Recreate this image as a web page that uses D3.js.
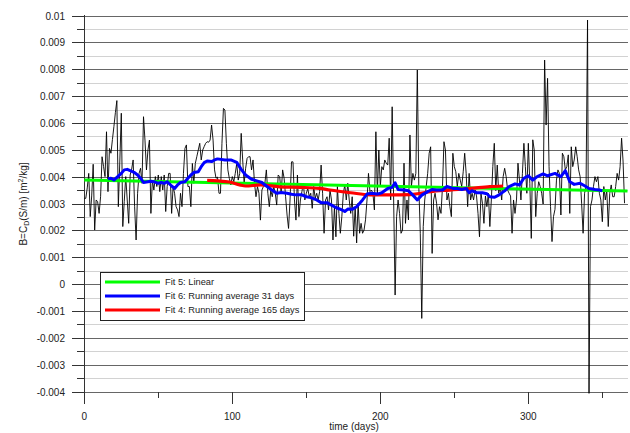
<!DOCTYPE html>
<html>
<head>
<meta charset="utf-8">
<title>B coefficient over time</title>
<style>
    body {
        margin: 0;
        background: #fff;
    }

    svg {
        display: block;
        font-family: "Liberation Sans", Arial, sans-serif;
    }

    .lbl {
        font-size: 10px;
        fill: #222;
    }

    .legend text {
        font-size: 9.3px;
        fill: #222;
    }
</style>
</head>
<body>
<script src="https://cdn.jsdelivr.net/npm/d3@7"></script>
<script>

    // all B values are in units of 1e-3 m²/kg

    // daily values, index = day 0..365
    const dailyB = [
        3.21,3.21,3.6,4.14,2.53,3.3,4.48,2.03,3.15,3.09,
        2.65,3.27,4.76,4.4,4.02,5.69,3.46,5.07,4.89,5.4,
        5.88,6.4,6.85,2.9,4.6,6.38,2.16,3.1,4.02,3.15,
        2.28,4.08,4.3,4.64,2.9,1.66,3.4,4.14,4.33,3.77,
        6.25,5.38,4.27,5.01,5.38,2.65,3.89,3.52,4.02,3.65,
        4.08,3.46,4.02,3.52,4.08,2.72,3.65,4.14,4.14,2.65,
        3.65,3.4,2.9,2.78,2.53,3.4,2.9,4.14,5.07,5.2,
        3.65,3.65,2.9,4.51,3.77,4.51,4.76,5.01,5.26,4.64,
        5.01,5.14,5.26,5.32,5.3,5.38,5.94,5.38,4.27,3.96,
        4.0,3.4,3.4,5.26,6.56,6.5,5.26,4.27,3.95,3.71,
        4.02,3.83,4.14,4.51,3.89,4.14,5.63,4.64,3.77,4.33,
        4.7,4.76,4.76,4.27,4.64,3.77,3.27,3.65,3.4,2.4,
        3.52,3.65,3.77,4.27,3.4,2.9,3.52,3.27,3.65,3.4,
        2.96,4.08,4.02,3.4,4.27,3.96,3.27,2.59,2.09,3.15,
        4.57,4.57,3.15,2.4,4.08,2.53,3.15,3.46,3.77,3.15,
        3.4,3.58,3.27,3.4,2.84,3.65,3.21,3.4,3.15,3.46,
        4.45,3.4,1.91,3.15,3.27,2.78,3.52,3.15,1.66,2.9,
        1.78,3.65,2.65,1.91,2.53,3.4,3.71,3.15,3.77,3.15,
        2.65,3.27,1.8,2.9,1.55,3.03,1.91,2.28,1.91,2.03,
        2.41,3.15,4.14,3.46,3.52,3.4,2.78,5.69,3.4,5.01,
        3.65,4.39,4.27,4.64,4.52,4.45,5.45,3.15,6.62,3.15,
        -0.39,2.53,3.15,2.65,1.91,2.03,4.52,2.28,3.15,2.41,
        5.57,3.65,4.14,3.89,4.14,7.99,3.65,1.91,-1.26,2.16,
        3.15,3.65,4.14,4.89,5.13,1.16,3.15,3.4,3.03,2.41,
        2.9,2.65,3.65,5.32,5.01,3.15,3.4,2.9,2.53,4.89,
        4.39,4.2,3.65,4.14,3.89,3.65,4.2,4.89,4.14,2.9,
        4.14,3.15,3.4,3.15,3.52,3.3,2.65,1.78,3.4,3.03,
        2.28,3.3,2.9,3.4,2.16,3.15,4.39,5.26,3.5,4.45,
        3.4,3.65,3.15,4.02,4.33,4.02,3.52,3.4,3.3,1.91,
        3.15,2.65,3.15,4.52,3.89,3.15,4.14,5.26,4.39,3.4,
        5.26,3.77,1.72,5.39,5.01,2.53,3.4,3.83,3.65,3.4,
        3.0,8.36,5.94,7.68,4.39,2.9,1.6,2.53,2.8,3.89,
        4.27,4.14,2.59,4.89,4.76,4.27,4.39,4.83,2.65,5.13,
        4.39,4.64,5.13,4.76,4.27,4.02,3.03,1.91,3.4,3.65,
        9.85,-4.05,2.9,3.15,3.65,4.02,3.83,4.02,3.4,3.15,
        2.34,3.65,3.15,3.52,2.16,3.4,3.71,3.27,3.27,3.65,
        4.14,3.89,4.39,5.45,4.6,3.03
    ];

    // Fit 5: linear, end points [day, B]
    const linearFit = [[0, 3.89], [367, 3.48]];

    // Fit 6: running average 31 days, [day, B]
    const run31 = [
        [16,3.94],[18,3.96],[20,3.89],[22,3.99],[25,4.14],[27,4.27],[29,4.29],[31,4.24],[34,4.17],
        [36,4.08],[38,3.96],[40,3.8],[43,3.83],[45,3.85],[47,3.83],[50,3.77],[52,3.8],[54,3.77],
        [56,3.83],[59,3.67],[61,3.58],[63,3.71],[65,3.8],[68,3.83],[70,3.96],[72,4.08],[74,4.17],
        [77,4.2],[79,4.39],[81,4.54],[83,4.6],[86,4.58],[88,4.64],[90,4.68],[95,4.64],[99,4.64],
        [103,4.55],[106,4.29],[109,4.08],[113,3.92],[116,3.87],[120,3.8],[123,3.67],[126,3.55],
        [130,3.4],[133,3.43],[137,3.4],[140,3.36],[143,3.34],[147,3.34],[150,3.27],[153,3.24],
        [157,3.15],[160,3.05],[164,3.05],[167,2.96],[170,2.87],[174,2.78],[176,2.72],[178,2.81],
        [181,2.8],[184,2.9],[188,3.15],[191,3.37],[194,3.4],[198,3.37],[201,3.42],[205,3.58],
        [208,3.62],[210,3.79],[212,3.54],[216,3.52],[219,3.49],[222,3.33],[225,3.15],[228,3.33],
        [232,3.46],[235,3.54],[238,3.52],[242,3.52],[245,3.65],[249,3.58],[252,3.58],[255,3.54],
        [258,3.58],[260,3.42],[262,3.49],[265,3.42],[269,3.42],[272,3.38],[274,3.27],[277,3.25],
        [280,3.33],[284,3.49],[287,3.65],[291,3.75],[294,3.71],[297,3.96],[300,4.05],[303,3.89],
        [306,4.02],[310,4.12],[313,4.05],[318,4.14],[322,4.02],[325,4.24],[328,3.83],[331,3.73],
        [335,3.77],[338,3.68],[341,3.58],[345,3.54],[348,3.52],[350,3.49]
    ];

    // Fit 4: running average 165 days, [day, B]
    const run165 = [
        [83,3.88],[90,3.86],[98,3.82],[105,3.71],[109,3.67],[119,3.71],[132,3.64],[146,3.62],
        [159,3.58],[166,3.52],[180,3.42],[193,3.34],[206,3.34],[220,3.35],[227,3.4],[234,3.46],
        [247,3.52],[261,3.58],[274,3.65],[283,3.67]
    ];

    const xTicks = [0, 100, 200, 300];
    const xMinorTicks = [50, 150, 250, 350];
    const yTicks = [-4, -3, -2, -1, 0, 1, 2, 3, 4, 5, 6, 7, 8, 9, 10];
    const yTickLabels = ["-0.004", "-0.003", "-0.002", "-0.001", "0", "0.001", "0.002", "0.003",
        "0.004", "0.005", "0.006", "0.007", "0.008", "0.009", "0.01"];
    const yMinorTicks = [-3.5, -2.5, -1.5, -0.5, 0.5, 1.5, 2.5, 3.5, 4.5, 5.5, 6.5, 7.5, 8.5, 9.5];

    const legendItems = [
        {name: "Fit 5: Linear", color: "#00ff00"},
        {name: "Fit 6: Running average 31 days", color: "#0000ff"},
        {name: "Fit 4: Running average 165 days", color: "#ff0000"}
    ];

    const W = 630, H = 433;
    const svg = d3.select("body").append("svg")
        .attr("width", W)
        .attr("height", H);

    const x = d3.scaleLinear().domain([0, 367]).range([84.3, 627.5]);
    const y = d3.scaleLinear().domain([-4, 10]).range([392, 16]);

    // grid
    svg.append("g").selectAll("line")
        .data(yMinorTicks)
        .join("line")
        .attr("shape-rendering", "crispEdges")
        .attr("x1", x(0)).attr("x2", x.range()[1])
        .attr("y1", d => y(d)).attr("y2", d => y(d))
        .attr("stroke", "#d2d2d2");

    svg.append("g").selectAll("line")
        .data(yTicks)
        .join("line")
        .attr("shape-rendering", "crispEdges")
        .attr("x1", x(0)).attr("x2", x.range()[1])
        .attr("y1", d => y(d)).attr("y2", d => y(d))
        .attr("stroke", "#666");

    // left axis
    svg.append("line")
        .attr("shape-rendering", "crispEdges")
        .attr("x1", x(0)).attr("x2", x(0))
        .attr("y1", y(10) - 1).attr("y2", y(-4))
        .attr("stroke", "#333");

    svg.append("g").selectAll("line")
        .data(yTicks)
        .join("line")
        .attr("shape-rendering", "crispEdges")
        .attr("x1", x(0) - 12).attr("x2", x(0))
        .attr("y1", d => y(d)).attr("y2", d => y(d))
        .attr("stroke", "#333");

    svg.append("g").selectAll("line")
        .data(yMinorTicks)
        .join("line")
        .attr("shape-rendering", "crispEdges")
        .attr("x1", x(0) - 7).attr("x2", x(0))
        .attr("y1", d => y(d)).attr("y2", d => y(d))
        .attr("stroke", "#333");

    svg.append("g").selectAll("text")
        .data(yTicks)
        .join("text")
        .attr("class", "lbl")
        .attr("text-anchor", "end")
        .attr("dominant-baseline", "central")
        .attr("x", 65)
        .attr("y", d => y(d))
        .text((d, i) => yTickLabels[i]);

    // bottom ticks
    svg.append("g").selectAll("line")
        .data(xTicks)
        .join("line")
        .attr("shape-rendering", "crispEdges")
        .attr("x1", d => x(d)).attr("x2", d => x(d))
        .attr("y1", y(-4)).attr("y2", y(-4) + 12)
        .attr("stroke", "#333");

    svg.append("g").selectAll("line")
        .data(xMinorTicks)
        .join("line")
        .attr("shape-rendering", "crispEdges")
        .attr("x1", d => x(d)).attr("x2", d => x(d))
        .attr("y1", y(-4)).attr("y2", y(-4) + 6)
        .attr("stroke", "#333");

    svg.append("g").selectAll("text")
        .data(xTicks)
        .join("text")
        .attr("class", "lbl")
        .attr("text-anchor", "middle")
        .attr("x", d => x(d))
        .attr("y", 420)
        .text(d => d);

    svg.append("text")
        .attr("class", "lbl")
        .attr("text-anchor", "middle")
        .attr("x", 354)
        .attr("y", 430)
        .text("time (days)");

    const yl = svg.append("text")
        .attr("class", "lbl")
        .attr("text-anchor", "middle")
        .attr("transform", "translate(27,204) rotate(-90)");
    yl.append("tspan").text("B=C");
    yl.append("tspan").attr("font-size", "7px").attr("dy", 2).text("D");
    yl.append("tspan").attr("dy", -2).text("(S/m) [m");
    yl.append("tspan").attr("font-size", "7px").attr("dy", -4).text("2");
    yl.append("tspan").attr("dy", 4).text("/kg]");

    // series
    const line = d3.line().x(d => x(d[0])).y(d => y(d[1]));

    svg.append("path")
        .datum(dailyB.map((v, i) => [i, v]))
        .attr("fill", "none")
        .attr("stroke", "#000")
        .attr("stroke-width", 0.9)
        .attr("d", line);

    svg.append("path")
        .datum(linearFit)
        .attr("fill", "none")
        .attr("stroke", "#00ff00")
        .attr("stroke-width", 3)
        .attr("d", line);

    svg.append("path")
        .datum(run165)
        .attr("fill", "none")
        .attr("stroke", "#ff0000")
        .attr("stroke-width", 3.2)
        .attr("d", line.curve(d3.curveMonotoneX));

    svg.append("path")
        .datum(run31)
        .attr("fill", "none")
        .attr("stroke", "#0000ff")
        .attr("stroke-width", 3)
        .attr("stroke-linejoin", "round")
        .attr("d", d3.line().x(d => x(d[0])).y(d => y(d[1])));

    // legend
    const lg = svg.append("g").attr("class", "legend");
    lg.append("rect")
        .attr("x", 100.5).attr("y", 272.5)
        .attr("width", 204).attr("height", 48)
        .attr("fill", "#fff")
        .attr("stroke", "#222");

    const item = lg.selectAll("g.item")
        .data(legendItems)
        .join("g")
        .attr("class", "item")
        .attr("transform", (d, i) => `translate(0,${282 + i * 14})`);

    item.append("line")
        .attr("x1", 105).attr("x2", 160)
        .attr("stroke", d => d.color)
        .attr("stroke-width", 3);

    item.append("text")
        .attr("x", 165)
        .attr("dominant-baseline", "central")
        .text(d => d.name);
</script>
</body>
</html>
